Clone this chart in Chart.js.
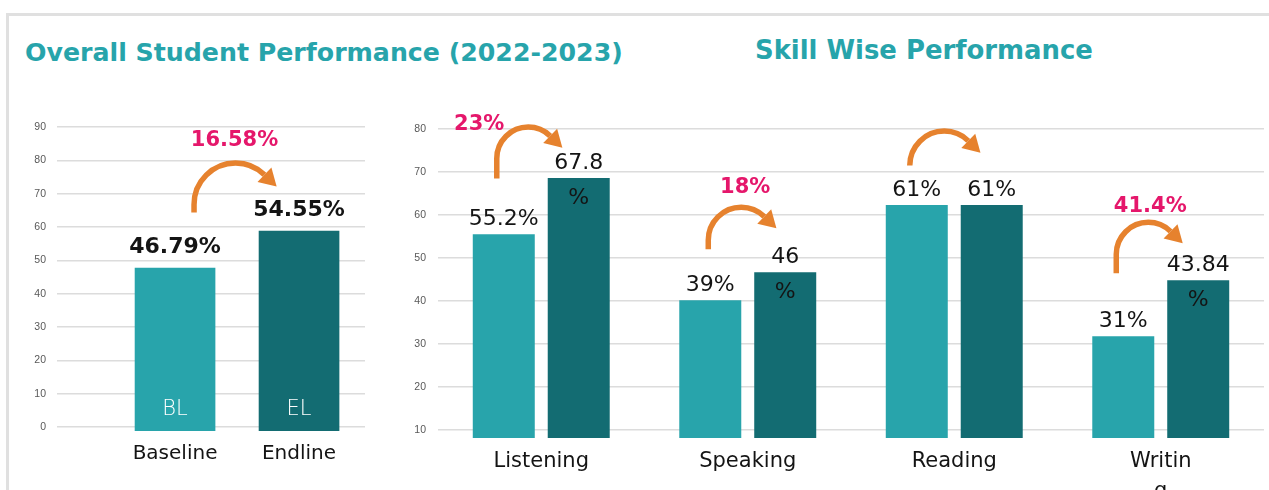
<!DOCTYPE html>
<html>
<head>
<meta charset="utf-8">
<script src="https://cdn.jsdelivr.net/npm/chart.js@4.4.1/dist/chart.umd.min.js"></script>
<style>
  html, body { margin: 0; padding: 0; background: #ffffff; }
  body { width: 1269px; height: 490px; overflow: hidden; position: relative; }
  .frame { position: absolute; background: #E0E0E0; }
  .title { position: absolute; white-space: nowrap; font-family: "DejaVu Sans", sans-serif; font-weight: 700;
           color: #27A4AB; line-height: 1; display: inline-block; }
  .box { position: absolute; }
</style>
</head>
<body>
<div class="frame" style="left:6px;top:13px;width:1263px;height:3px;"></div>
<div class="frame" style="left:6px;top:13px;width:3px;height:477px;"></div>
<div class="title" id="t1">Overall Student Performance (2022-2023)</div>
<div class="title" id="t2">Skill Wise Performance</div>
<div class="box" style="left:0px;top:100px;width:380px;height:390px;"><canvas id="c1"></canvas></div>
<div class="box" style="left:380px;top:100px;width:889px;height:390px;"><canvas id="c2"></canvas></div>
<script>
// ---------------- DATA ----------------
const overallCategories = ['Baseline', 'Endline'];
const overallValues = [47.7, 58.8];
const overallLabels = ['46.79%', '54.55%'];
const overallTags = ['BL', 'EL'];
const overallChange = '16.58%';
const overallTicks = [0, 10, 20, 30, 40, 50, 60, 70, 80, 90];

const skillCategories = ['Listening', 'Speaking', 'Reading', ['Writin', 'g']];
const baselineValues = [55.5, 40.2, 62.3, 31.8];
const endlineValues = [68.6, 46.7, 62.3, 44.8];
const baselineLabels = [['55.2%'], ['39%'], ['61%'], ['31%']];
const endlineLabels = [['67.8', '%'], ['46', '%'], ['61%'], ['43.84', '%']];
const skillChange = ['23%', '18%', '', '41.4%'];
const skillTicks = [10, 20, 30, 40, 50, 60, 70, 80];

// ---------------- STYLE ----------------
const TEAL = '#28A4AB';
const DARK = '#136C72';
const PINK = '#E5176B';
const ORANGE = '#E6822E';
const INK = '#141414';
const FONT = '"DejaVu Sans", sans-serif';

// arrow / change-label layout relative to the bars of each group
const overallArrowStyle = { legDx: 19, tipDx: -22, rise: 68, ext: 8, labelDx: -1, labelDy: -17 };
const skillArrowStyle = [
  { legDx: -7, tipDx: -19, rise: 51, ext: 20, labelDx: -49, labelDy: 3 },
  { legDx: -2, tipDx: -11, rise: 65, ext: 9, labelDx: 4, labelDy: -14 },
  { legDx: -7, tipDx: -13, rise: 74, ext: 0, labelDx: 0, labelDy: -12 },
  { legDx: -7, tipDx: -18, rise: 58, ext: 19, labelDx: 2, labelDy: -10 }
];

// ---------------- TITLES ----------------
function fitTitle(el, left, target, baseline) {
  el.style.fontSize = '100px';
  const w = el.getBoundingClientRect().width;
  const size = 100 * target / w;
  el.style.fontSize = size + 'px';
  el.style.left = left + 'px';
  el.style.top = (baseline - 0.846 * size) + 'px';
}
fitTitle(document.getElementById('t1'), 25, 598, 61);
fitTitle(document.getElementById('t2'), 755, 338, 60);

// ---------------- DRAW HELPERS ----------------
function drawArrow(ctx, legX, tipX, top, ext) {
  const r = (tipX - legX) / 2, cx = legX + r, cy = top + r;
  const phi = 0.8, L = 17, hw = 10;
  ctx.save();
  ctx.strokeStyle = ORANGE; ctx.fillStyle = ORANGE; ctx.lineWidth = 5.5; ctx.lineCap = 'butt';
  ctx.beginPath();
  ctx.moveTo(legX, cy + Math.max(ext, 0));
  ctx.lineTo(legX, cy);
  ctx.arc(cx, cy, r, Math.PI, 2 * Math.PI - phi, false);
  ctx.stroke();
  const ex = cx + r * Math.cos(-phi), ey = cy + r * Math.sin(-phi);
  const dx = Math.sin(phi), dy = Math.cos(phi);
  const px = -dy, py = dx;
  ctx.beginPath();
  ctx.moveTo(ex + dx * L, ey + dy * L);
  ctx.lineTo(ex + px * hw, ey + py * hw);
  ctx.lineTo(ex - px * hw, ey - py * hw);
  ctx.closePath();
  ctx.fill();
  ctx.restore();
  return { cx, top };
}
function drawText(ctx, text, x, y, font, color) {
  ctx.save();
  ctx.font = font; ctx.fillStyle = color; ctx.textAlign = 'center'; ctx.textBaseline = 'alphabetic';
  ctx.fillText(text, x, y);
  ctx.restore();
}

const overallPlugin = {
  id: 'overallAnnotations',
  afterDatasetsDraw(chart) {
    const ctx = chart.ctx;
    const bars = chart.getDatasetMeta(0).data;
    bars.forEach((b, i) => {
      drawText(ctx, overallLabels[i], b.x, b.y - 15, `700 22px ${FONT}`, INK);
      drawText(ctx, overallTags[i], b.x, b.base - 16, `300 21px ${FONT}`, '#FFFFFF');
    });
    const s = overallArrowStyle;
    const top = Math.min(bars[0].y, bars[1].y) - s.rise;
    const a = drawArrow(ctx, bars[0].x + s.legDx, bars[1].x + s.tipDx, top, s.ext);
    drawText(ctx, overallChange, a.cx + s.labelDx, a.top + s.labelDy, `700 21px ${FONT}`, PINK);
  }
};

const skillPlugin = {
  id: 'skillAnnotations',
  afterDatasetsDraw(chart) {
    const ctx = chart.ctx;
    const bl = chart.getDatasetMeta(0).data;
    const el = chart.getDatasetMeta(1).data;
    const labelSets = [baselineLabels, endlineLabels];
    [bl, el].forEach((bars, d) => {
      bars.forEach((b, i) => {
        labelSets[d][i].forEach((line, k) => {
          drawText(ctx, line, b.x, b.y - 9 + k * 35, `400 22px ${FONT}`, INK);
        });
      });
    });
    skillCategories.forEach((c, i) => {
      const s = skillArrowStyle[i];
      const top = Math.min(bl[i].y, el[i].y) - s.rise;
      const a = drawArrow(ctx, bl[i].x + s.legDx, el[i].x + s.tipDx, top, s.ext);
      if (skillChange[i]) {
        drawText(ctx, skillChange[i], a.cx + s.labelDx, a.top + s.labelDy, `700 21px ${FONT}`, PINK);
      }
    });
  }
};

Chart.defaults.font.family = FONT;

// ---------------- LEFT CHART ----------------
new Chart(document.getElementById('c1'), {
  type: 'bar',
  data: {
    datasets: [{
      data: overallValues.map((v, i) => ({ x: i + 1, y: v })),
      backgroundColor: [TEAL, DARK],
      barThickness: 80,
      base: -1.2
    }]
  },
  options: {
    responsive: true, maintainAspectRatio: false, animation: false, devicePixelRatio: 1,
    layout: { padding: { top: 27, right: 15, left: 0, bottom: 0 } },
    plugins: { legend: { display: false }, tooltip: { enabled: false }, title: { display: false } },
    scales: {
      x: {
        type: 'linear', min: 0.048, max: 2.532, offset: false,
        grid: { display: false }, border: { display: false },
        afterBuildTicks: (s) => { s.ticks = overallCategories.map((c, i) => ({ value: i + 1 })); },
        ticks: {
          autoSkip: false, maxRotation: 0, padding: 3,
          callback: (v) => overallCategories[v - 1],
          font: { family: FONT, size: 20 }, color: INK
        },
        afterFit: (s) => { s.height = 59; }
      },
      y: {
        min: -1.2, max: 90,
        afterBuildTicks: (s) => { s.ticks = overallTicks.map(v => ({ value: v })); },
        grid: { color: '#DCDCDC', lineWidth: 1.5, drawTicks: false },
        border: { display: false },
        ticks: { padding: 11, font: { family: '"Liberation Sans", sans-serif', size: 10.5 }, color: '#595959' },
        afterFit: (s) => { s.width = 57; }
      }
    }
  },
  plugins: [overallPlugin]
});

// ---------------- RIGHT CHART ----------------
new Chart(document.getElementById('c2'), {
  type: 'bar',
  data: {
    labels: skillCategories,
    datasets: [
      { label: 'Baseline', data: baselineValues, backgroundColor: TEAL, barPercentage: 0.827, categoryPercentage: 0.726 },
      { label: 'Endline', data: endlineValues, backgroundColor: DARK, barPercentage: 0.827, categoryPercentage: 0.726 }
    ]
  },
  options: {
    responsive: true, maintainAspectRatio: false, animation: false, devicePixelRatio: 1,
    layout: { padding: { top: 29, right: 5, left: 0, bottom: 0 } },
    plugins: { legend: { display: false }, tooltip: { enabled: false }, title: { display: false } },
    scales: {
      x: {
        grid: { display: false }, border: { display: false },
        ticks: { autoSkip: false, maxRotation: 0, padding: 1, font: { family: FONT, size: 21, lineHeight: 1.4 }, color: INK },
        afterFit: (s) => { s.height = 52; }
      },
      y: {
        min: 8.14, max: 80,
        afterBuildTicks: (s) => { s.ticks = skillTicks.map(v => ({ value: v })); },
        grid: { color: '#DCDCDC', lineWidth: 1.5, drawTicks: false },
        border: { display: false },
        ticks: { padding: 12, font: { family: '"Liberation Sans", sans-serif', size: 10.5 }, color: '#595959' },
        afterFit: (s) => { s.width = 58; }
      }
    }
  },
  plugins: [skillPlugin]
});
</script>
</body>
</html>
